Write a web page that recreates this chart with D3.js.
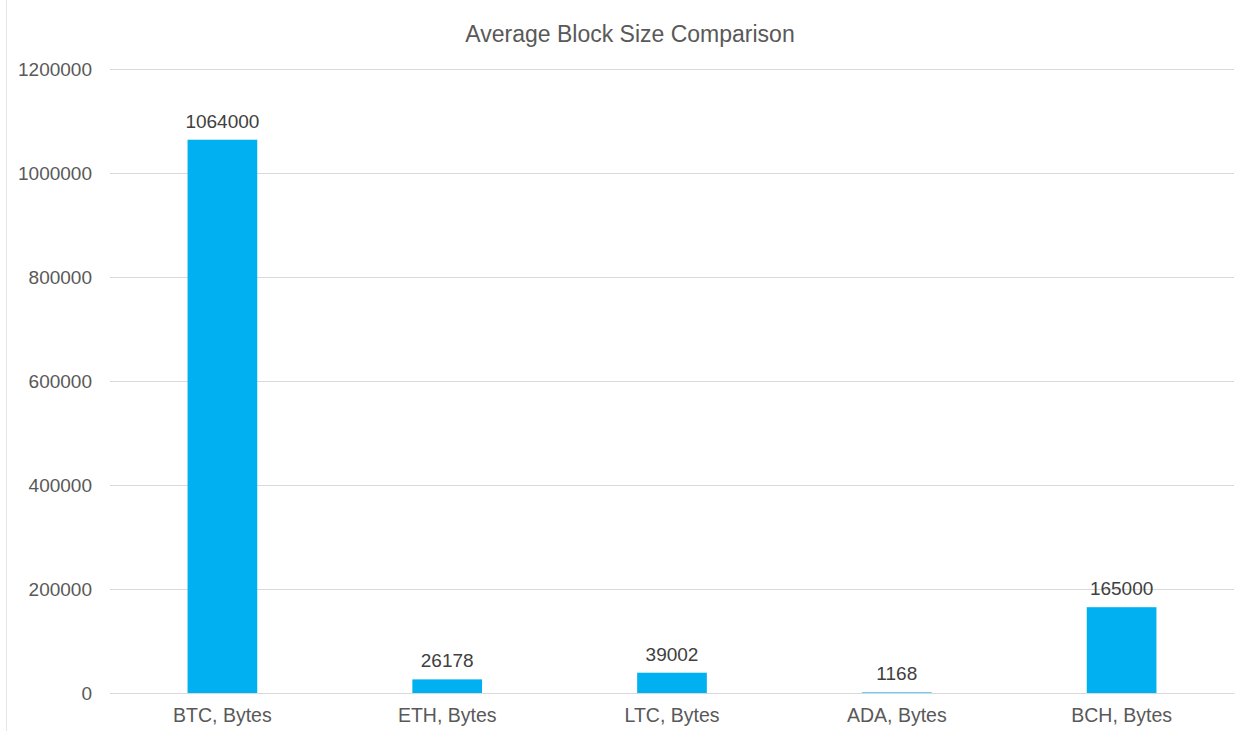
<!DOCTYPE html>
<html><head><meta charset="utf-8">
<script src="https://cdn.jsdelivr.net/npm/d3@7"></script>
<style>body{margin:0;background:#fff;}svg{display:block;font-family:"Liberation Sans",Arial,sans-serif;}</style>
</head><body>
<svg id="c" width="1250" height="731"></svg>
<script>
const categories = ["BTC, Bytes","ETH, Bytes","LTC, Bytes","ADA, Bytes","BCH, Bytes"];
const values = [1064000, 26178, 39002, 1168, 165000];
const yTicks = [0,200000,400000,600000,800000,1000000,1200000];
const title = "Average Block Size Comparison";

const FF = "Liberation Sans, Arial, sans-serif";
const svg = d3.select("#c");
const m = {left:110, right:1234, top:69, bottom:693};
const x = d3.scaleBand().domain(categories).range([m.left, m.right]).paddingInner(0.69).paddingOuter(0.345);
const y = d3.scaleLinear().domain([0,1200000]).range([m.bottom, m.top]);

svg.append("line").attr("x1",6.5).attr("x2",6.5).attr("y1",0).attr("y2",731).attr("stroke","#e6e6e6");

const ya = svg.append("g").attr("transform",`translate(${m.left},0)`)
  .call(d3.axisLeft(y).tickValues(yTicks).tickSize(-(m.right-m.left)).tickPadding(18).tickFormat(d3.format("d")));
ya.select(".domain").remove();
ya.selectAll(".tick line").attr("stroke","#d9d9d9").attr("stroke-width",1);
ya.selectAll(".tick text").attr("fill","#595959").style("font-size","19px").style("font-family",FF);

svg.selectAll("rect.bar").data(values).enter().append("rect").attr("class","bar")
  .attr("x",(d,i)=>x(categories[i])).attr("width",x.bandwidth())
  .attr("y",d=>y(d)).attr("height",d=>y(0)-y(d)).attr("fill","#00b0f0");

svg.selectAll("text.lbl").data(values).enter().append("text").attr("class","lbl")
  .attr("x",(d,i)=>x(categories[i])+x.bandwidth()/2).attr("y",d=>y(d)-12)
  .attr("text-anchor","middle").attr("fill","#404040").style("font-size","19px").style("font-family",FF).text(d=>d);

const xa = svg.append("g").attr("transform",`translate(0,${m.bottom})`)
  .call(d3.axisBottom(x).tickSize(0).tickPadding(15));
xa.select(".domain").attr("stroke","#d9d9d9");
xa.selectAll(".tick text").attr("fill","#595959").style("font-size","19.5px").style("font-family",FF);

svg.append("text").attr("x",630).attr("y",42).attr("text-anchor","middle").attr("fill","#595959")
  .style("font-size","23px").style("font-family",FF).text(title);
</script>
</body></html>
